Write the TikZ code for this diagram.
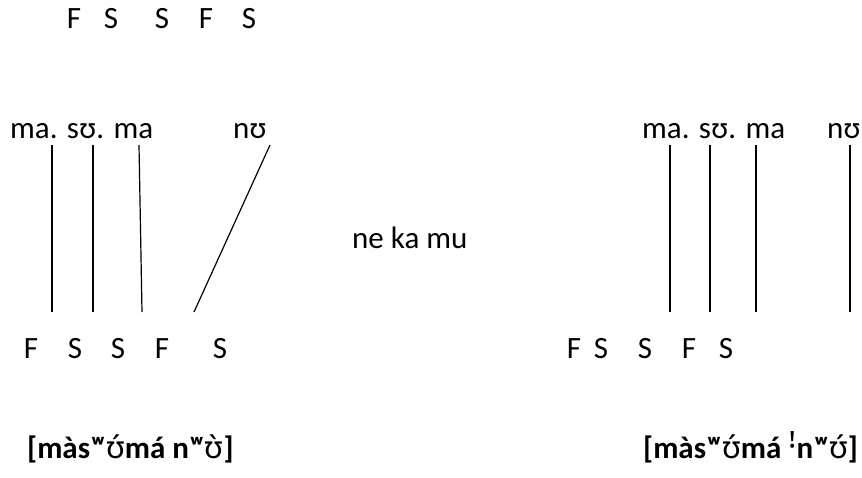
\documentclass[tikz,border=0pt]{standalone}
\usepackage{fontspec}
\setmainfont{Carlito}
\newfontfamily\ipafb{Noto Sans}
\begin{document}
\begin{tikzpicture}[x=1pt,y=-1pt,
  lbl/.style={inner sep=0pt,font=\fontsize{31}{36}\selectfont},
  tr/.style={lbl,font=\fontsize{31}{36}\selectfont\bfseries},
  assoc/.style={line width=1.2pt,black}]
\useasboundingbox (0,0) rectangle (862,477);
% top row
\node[lbl,anchor=base] (t1) at (74,28) {F};
\node[lbl,anchor=base] (t2) at (111,28) {S};
\node[lbl,anchor=base] (t3) at (162,28) {S};
\node[lbl,anchor=base] (t4) at (206,28) {F};
\node[lbl,anchor=base] (t5) at (249,28) {S};
% left syllables
\node[lbl,anchor=base west] (lsyl) at (10,138) {ma. sʊ. ma};
\node[lbl,anchor=base west] (lnu) at (233,138) {nʊ};
% right syllables
\node[lbl,anchor=base west] (rsyl) at (642,138) {ma. sʊ. ma};
\node[lbl,anchor=base west] (rnu) at (827,138) {nʊ};
% middle
\node[lbl,anchor=base west] (mid) at (352,248) {ne ka mu};
% left bottom row
\node[lbl,anchor=base] (b1) at (31,358) {F};
\node[lbl,anchor=base] (b2) at (75,358) {S};
\node[lbl,anchor=base] (b3) at (118,358) {S};
\node[lbl,anchor=base] (b4) at (162,358) {F};
\node[lbl,anchor=base] (b5) at (220,358) {S};
% right bottom row
\node[lbl,anchor=base] (c1) at (574,358) {F};
\node[lbl,anchor=base] (c2) at (601,358) {S};
\node[lbl,anchor=base] (c3) at (645,358) {S};
\node[lbl,anchor=base] (c4) at (689,358) {F};
\node[lbl,anchor=base] (c5) at (726,358) {S};
% transcriptions
\node[tr,anchor=base west] (ltr) at (27,458) {[màsʷ{\ipafb ʊ́}má nʷ{\ipafb ʊ̀}]};
\node[tr,anchor=base west] (rtr) at (643,458) {[màsʷ{\ipafb ʊ́}má {\ipafb ꜝ}nʷ{\ipafb ʊ́}]};
% association line ends
\coordinate (la1) at (52,145); \coordinate (lb1) at (52,312);
\coordinate (la2) at (93,145); \coordinate (lb2) at (93,312);
\coordinate (la3) at (139,145); \coordinate (lb3) at (142,312);
\coordinate (la4) at (270,145); \coordinate (lb4) at (194,312);
\coordinate (ra1) at (670,145); \coordinate (rb1) at (670,312);
\coordinate (ra2) at (710,145); \coordinate (rb2) at (710,312);
\coordinate (ra3) at (756,145); \coordinate (rb3) at (756,312);
\coordinate (ra4) at (850,145); \coordinate (rb4) at (850,312);
\foreach \i in {1,2,3,4} {
  \draw[assoc] (la\i) -- (lb\i);
  \draw[assoc] (ra\i) -- (rb\i);
}
\end{tikzpicture}
\end{document}
